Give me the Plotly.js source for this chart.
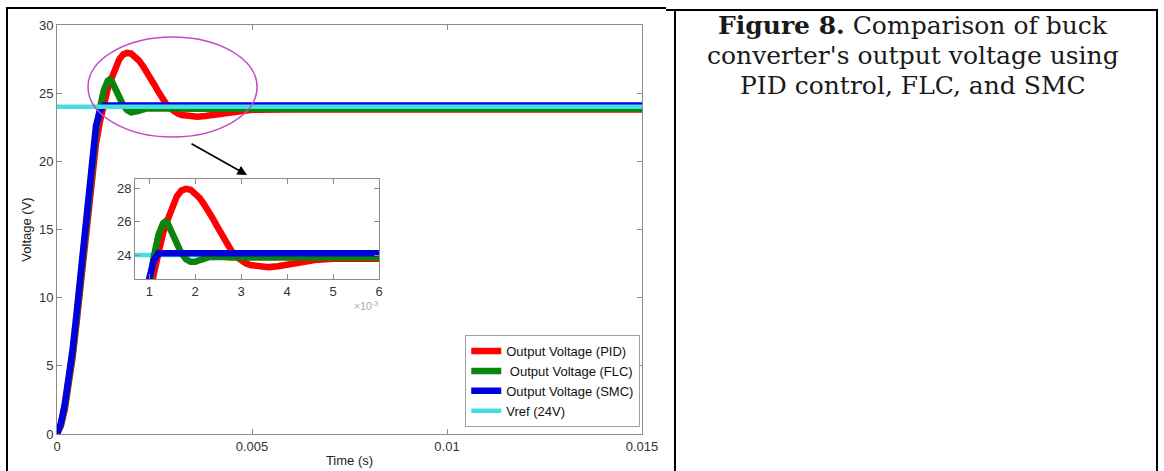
<!DOCTYPE html>
<html>
<head>
<meta charset="utf-8">
<script src="https://cdn.plot.ly/plotly-3.0.1.min.js"></script>
<style>
html,body{margin:0;padding:0;background:#fff;}
#chart{width:1164px;height:471px;}
</style>
</head>
<body>
<div id="chart"></div>
<script>
// ---- data (time in seconds, voltage in volts) ----
const tPID = [0,0.0001,0.0002,0.0003,0.0004,0.0005,0.0006,0.0007,0.0008,0.0009,0.001,0.0011,0.0012,0.0013,0.0014,0.0015,0.0016,0.0017,0.0018,0.0019,0.002,0.0021,0.0022,0.0023,0.0024,0.0025,0.0026,0.0027,0.0028,0.0029,0.003,0.0031,0.0032,0.0034,0.0036,0.0038,0.004,0.0043,0.0046,0.005,0.006,0.008,0.01,0.015];
const vPID = [0,0.6,1.8,3.5,5.6,8.1,10.8,13.7,16.6,19.4,21.3,22.9,24.3,25.3,26.1,26.9,27.5,27.85,27.95,27.9,27.7,27.4,27.0,26.6,26.1,25.6,25.1,24.6,24.2,23.9,23.65,23.5,23.4,23.3,23.28,23.33,23.42,23.58,23.7,23.78,23.8,23.8,23.8,23.8];

const tFLC = [0,0.0001,0.0002,0.0003,0.0004,0.0005,0.0006,0.0007,0.0008,0.0009,0.001,0.0011,0.0012,0.0013,0.00135,0.0014,0.0015,0.0016,0.0017,0.0018,0.0019,0.002,0.0021,0.0022,0.0023,0.0025,0.0028,0.0035,0.015];
const vFLC = [0,0.7,2.0,3.8,5.9,8.4,11.2,14.1,17.1,19.9,22.2,23.9,25.2,25.9,26.0,25.9,25.4,24.7,24.1,23.75,23.6,23.6,23.7,23.8,23.88,23.9,23.85,23.85,23.85];

const tSMC = [0,0.0001,0.0002,0.0003,0.0004,0.0005,0.0006,0.0007,0.0008,0.0009,0.001,0.0011,0.00115,0.0012,0.015];
const vSMC = [0,0.8,2.2,4.0,6.2,8.8,11.6,14.6,17.6,20.4,22.6,23.7,24.0,24.1,24.1];

const tRef = [0,0.015];
const vRef = [24,24];

const seriesNames = ['Output Voltage (PID)','\u00a0Output Voltage (FLC)','Output Voltage (SMC)','Vref (24V)'];
const seriesColors = ['#ff0000','#0b840b','#0000dc','#45dfdf'];

const mainXTicks = [0,0.005,0.01,0.015];
const mainXTickText = ['0','0.005','0.01','0.015'];
const mainYTicks = [0,5,10,15,20,25,30];
const insetXTicks = [0.001,0.002,0.003,0.004,0.005,0.006];
const insetXTickText = ['1','2','3','4','5','6'];
const insetYTicks = [24,26,28];

const captionLines = ['<b>Figure 8.</b> Comparison of buck',"converter's output voltage using",'PID control, FLC, and SMC'];

// ---- layout geometry (pixels) ----
const W=1164,H=471, L=57, R=642, T=25, B=434;
const px = x => (x-L)/(R-L);
const py = y => (B-y)/(B-T);

const seriesT = [tPID,tFLC,tSMC,tRef];
const seriesV = [vPID,vFLC,vSMC,vRef];
const widths = [6.5,6.5,6.5,4.5];

const traces = [];
for (let i=0;i<4;i++){
  traces.push({x:seriesT[i],y:seriesV[i],type:'scatter',mode:'lines',name:seriesNames[i],
    line:{color:seriesColors[i],width:widths[i]},xaxis:'x',yaxis:'y',showlegend:true,hoverinfo:'skip'});
}
const insetOrder=[3,0,1,2];
insetOrder.forEach(i=>{
  traces.push({x:seriesT[i],y:seriesV[i],type:'scatter',mode:'lines',name:seriesNames[i],
    line:{color:seriesColors[i],width:widths[i]},xaxis:'x2',yaxis:'y2',showlegend:false,hoverinfo:'skip'});
});

const sans='Arial, Liberation Sans, sans-serif';
const tickFont={family:sans,size:13,color:'#333'};
const axBase={showgrid:false,zeroline:false,showline:true,linecolor:'#8c8c8c',linewidth:1,
  mirror:'ticks',ticks:'inside',ticklen:5,tickcolor:'#8c8c8c',tickfont:tickFont,fixedrange:true};

const frame = {color:'#000',width:2};
const shapes = [
  {type:'line',xref:'paper',yref:'paper',x0:px(6),x1:px(666),y0:py(8),y1:py(8),line:frame},
  {type:'line',xref:'paper',yref:'paper',x0:px(666),x1:px(1158),y0:py(10),y1:py(10),line:frame},
  {type:'line',xref:'paper',yref:'paper',x0:px(7),x1:px(7),y0:py(8),y1:py(471),line:frame},
  {type:'line',xref:'paper',yref:'paper',x0:px(675),x1:px(675),y0:py(10),y1:py(471),line:frame},
  {type:'line',xref:'paper',yref:'paper',x0:px(1157),x1:px(1157),y0:py(10),y1:py(471),line:frame},
  {type:'circle',xref:'x',yref:'y',x0:0.000795,x1:0.00513,y0:21.78,y1:29.12,line:{color:'#c44bc8',width:1.5}}
];

const annotations = [
  {xref:'x',yref:'y',x:0.004872,y:19.0,ax:-57,ay:-32,showarrow:true,arrowhead:2,arrowsize:1.2,arrowwidth:1.6,arrowcolor:'#000',text:''},
  {xref:'paper',yref:'paper',x:px(380),y:py(297),xanchor:'right',yanchor:'top',text:'\u00d710<sup>-3</sup>',showarrow:false,
    font:{family:sans,size:10.5,color:'#a8a8a8'}}
];
const capY=[25,55,85];
captionLines.forEach((s,i)=>annotations.push({xref:'paper',yref:'paper',x:px(913),y:py(capY[i]),xanchor:'center',yanchor:'middle',
  text:s,showarrow:false,font:{family:'DejaVu Serif, serif',size:25,color:'#1a1a1a'}}));

const layout = {
  width:W,height:H,margin:{l:L,r:W-R,t:T,b:H-B,pad:0},
  paper_bgcolor:'#fff',plot_bgcolor:'#fff',
  xaxis:Object.assign({},axBase,{range:[0,0.015],tickvals:mainXTicks,ticktext:mainXTickText,
    title:{text:'Time (s)',font:{family:sans,size:13,color:'#222'},standoff:3}}),
  yaxis:Object.assign({},axBase,{range:[0,30],tickvals:mainYTicks,
    title:{text:'Voltage (V)',font:{family:sans,size:13,color:'#222'},standoff:4}}),
  xaxis2:Object.assign({},axBase,{anchor:'y2',domain:[px(135),px(379)],range:[0.00069,0.006],tickvals:insetXTicks,ticktext:insetXTickText}),
  yaxis2:Object.assign({},axBase,{anchor:'x2',domain:[py(279),py(179)],range:[22.57,28.54],tickvals:insetYTicks}),
  legend:{x:0.997,xanchor:'right',y:0.017,yanchor:'bottom',bgcolor:'#fff',bordercolor:'#a0a0a0',borderwidth:1,
    font:{family:sans,size:13,color:'#111'}},
  shapes:shapes,annotations:annotations,showlegend:true
};

Plotly.newPlot('chart',traces,layout,{staticPlot:true,displayModeBar:false});
</script>
</body>
</html>
